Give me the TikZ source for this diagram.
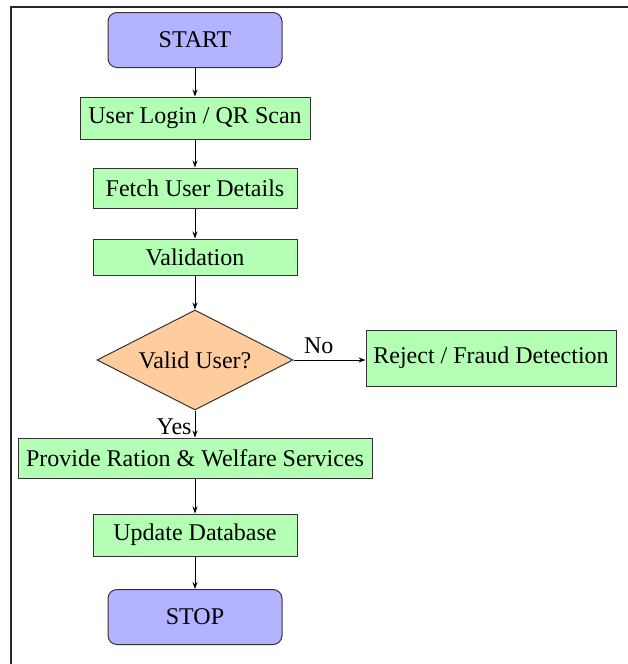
\documentclass[tikz,border=0pt]{standalone}
\usepackage{fontspec}
\setmainfont{Liberation Serif}
\newfontfamily\chartfont{Liberation Serif}
\usetikzlibrary{shapes.geometric,arrows.meta}
\newcommand{\cx}{195pt}

\begin{document}
\begin{tikzpicture}[x=1pt, y=-1pt,
    every node/.style={font=\chartfont\fontsize{24}{26}\selectfont, inner sep=0pt},
    terminal/.style={draw=black!80, fill=termblue, rectangle, rounded corners=9pt, minimum width=174pt, minimum height=55pt, line width=1pt},
    process/.style={draw=black!80, fill=procgreen, rectangle, minimum height=40pt, line width=1pt},
    decision/.style={draw=black!80, fill=decpeach, diamond, aspect=1.95, minimum width=196pt, minimum height=100pt, line width=1pt},
    flow/.style={-{Stealth[length=7pt, width=5pt]}, line width=0.9pt}]
    \definecolor{termblue}{HTML}{B3B3FF}
    \definecolor{procgreen}{HTML}{B3FFB3}
    \definecolor{decpeach}{HTML}{FFCC9E}
    \useasboundingbox (0,0) rectangle (628,664);
    % Frame
    \draw[line width=1.8pt, black!85] (11,664) -- (11,7) -- (628,7);

    % Main column
    \node[terminal] (start) at (\cx,40) {START};
    \node[process, minimum width=230pt, minimum height=42pt] (login) at (\cx,118) {User Login / QR Scan};
    \node[process, minimum width=204pt] (fetch) at (\cx,188) {Fetch User Details};
    \node[process, minimum width=204pt, minimum height=36pt] (valid) at (\cx,257) {Validation};
    \node[decision] (check) at (\cx,360) {Valid User?};
    \node[process, minimum width=354pt] (provide) at (\cx,458) {Provide Ration \& Welfare Services};
    \node[process, minimum width=204pt, minimum height=42pt] (update) at (\cx,535) {Update Database};
    \node[terminal] (stop) at (\cx,617) {STOP};

    % Side branch
    \node[process, minimum width=250pt, minimum height=56pt] (reject) at (491,358) {Reject / Fraud Detection};

    % Connectors
    \draw[flow] (start) -- (login);
    \draw[flow] (login) -- (fetch);
    \draw[flow] (fetch) -- (valid);
    \draw[flow] (valid) -- (check);
    \draw[flow] (check.east) -- node[above=6pt, pos=0.35] (no) {No} (check.east -| reject.west);
    \draw[flow] (check) -- node[left=3pt, pos=0.6] (yes) {Yes} (provide);
    \draw[flow] (provide) -- (update);
    \draw[flow] (update) -- (stop);
\end{tikzpicture}
\end{document}
